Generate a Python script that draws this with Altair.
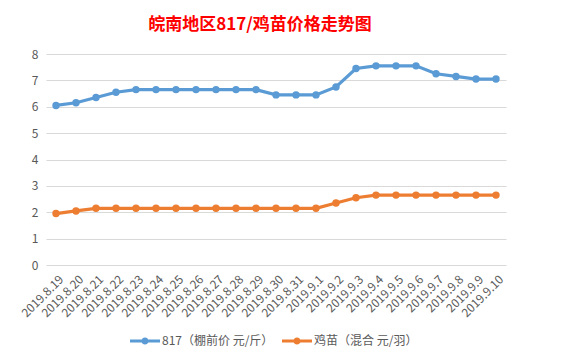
import altair as alt
import pandas as pd

dates = ["2019.8.19", "2019.8.20", "2019.8.21", "2019.8.22", "2019.8.23", "2019.8.24",
         "2019.8.25", "2019.8.26", "2019.8.27", "2019.8.28", "2019.8.29", "2019.8.30",
         "2019.8.31", "2019.9.1", "2019.9.2", "2019.9.3", "2019.9.4", "2019.9.5",
         "2019.9.6", "2019.9.7", "2019.9.8", "2019.9.9", "2019.9.10"]
price_817 = [6.05, 6.15, 6.35, 6.55, 6.65, 6.65, 6.65, 6.65, 6.65, 6.65, 6.65, 6.45,
             6.45, 6.45, 6.75, 7.45, 7.55, 7.55, 7.55, 7.25, 7.15, 7.05, 7.05]
price_chick = [1.95, 2.05, 2.15, 2.15, 2.15, 2.15, 2.15, 2.15, 2.15, 2.15, 2.15, 2.15,
               2.15, 2.15, 2.35, 2.55, 2.65, 2.65, 2.65, 2.65, 2.65, 2.65, 2.65]
series_names = ["817（棚前价 元/斤）", "鸡苗（混合 元/羽）"]
colors = ["#5B9BD5", "#ED7D31"]

rows = []
for i, d in enumerate(dates):
    rows.append({"date": d, "series": series_names[0], "value": price_817[i], "order": i})
    rows.append({"date": d, "series": series_names[1], "value": price_chick[i], "order": i})
df = pd.DataFrame(rows)

FONT = "Noto Sans CJK SC"
sym_path = ("M-1,-0.1 L1,-0.1 L1,0.1 L-1,0.1 Z "
            "M0.24,0 A0.24,0.24 0 1,1 -0.24,0 A0.24,0.24 0 1,1 0.24,0 Z")

x_enc = alt.X("date:N", sort=dates, title=None,
              scale=alt.Scale(type="point", padding=0.5),
              axis=alt.Axis(labelAngle=-45, labelAlign="right", labelBaseline="middle",
                            labelPadding=12, labelOffset=5, ticks=False, domain=False,
                            grid=False, labelColor="#595959", labelFontSize=12,
                            labelFont=FONT))
y_enc = alt.Y("value:Q", title=None,
              scale=alt.Scale(domain=[0, 8], nice=False),
              axis=alt.Axis(values=list(range(0, 9)), ticks=False, domain=False,
                            gridColor="#D9D9D9", gridWidth=1, labelColor="#595959",
                            labelFontSize=12, labelPadding=8, labelFont=FONT))

legend = alt.Legend(orient="none", legendX=84, legendY=272, direction="horizontal",
                    title=None, symbolType=sym_path, symbolSize=900,
                    symbolStrokeWidth=0, labelFontSize=12, labelColor="#595959",
                    labelFont=FONT, columnPadding=8, labelOffset=2)

scale = alt.Scale(domain=series_names, range=colors)

line = alt.Chart(df).mark_line(strokeWidth=3.2).encode(
    x=x_enc, y=y_enc,
    stroke=alt.Stroke("series:N", scale=scale, legend=legend, sort=series_names),
    order="order:Q",
)
pts = alt.Chart(df).mark_point(filled=True, size=55, opacity=1).encode(
    x=x_enc, y=y_enc,
    fill=alt.Fill("series:N", scale=scale, legend=legend, sort=series_names),
)

chart = alt.layer(line, pts).properties(
    width=460, height=211,
    title=alt.Title("皖南地区817/鸡苗价格走势图", color="#FF0000", fontSize=17,
                    fontWeight="bold", font=FONT, anchor="middle", frame="group",
                    dx=-16, offset=14),
    autosize=alt.AutoSizeParams(type="none"),
    padding={"left": 38, "top": 46, "right": 53, "bottom": 90},
    background="white",
).configure_view(stroke=None)

chart.save("out.html", embed_options={"renderer": "svg", "actions": False})
